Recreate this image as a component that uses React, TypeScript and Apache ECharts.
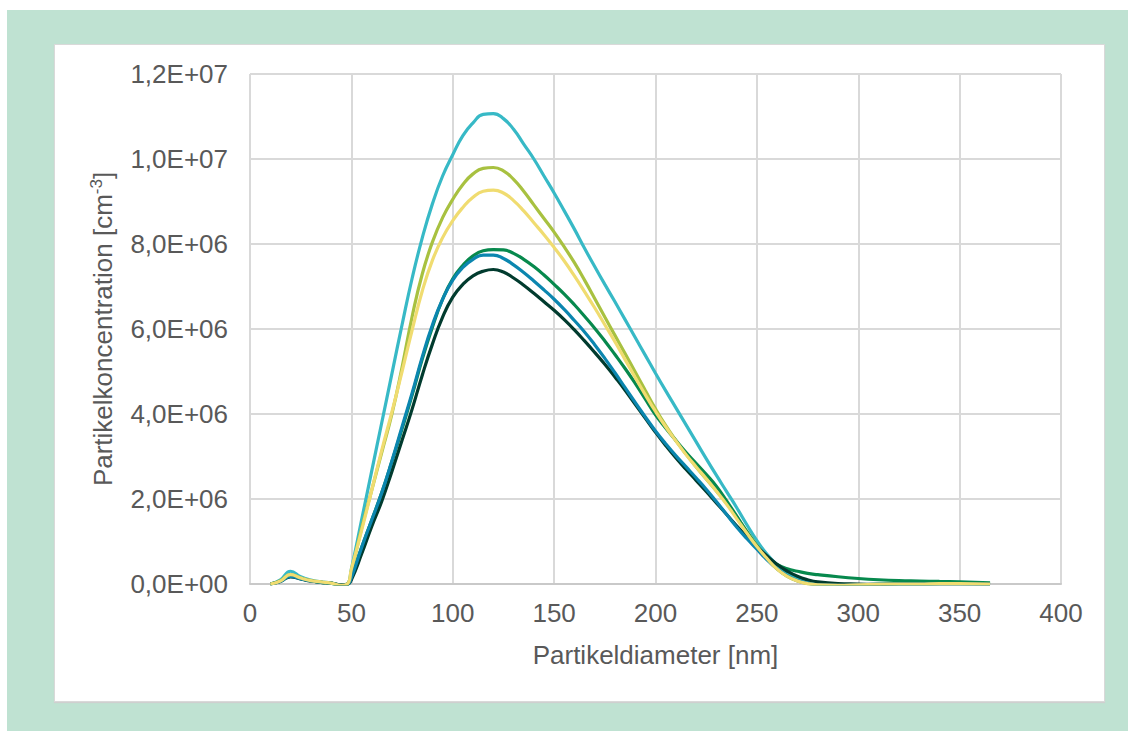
import React, { useEffect, useRef } from "react";
import * as echarts from "echarts";

// Particle diameter [nm]
const diameters = [
  10, 15, 20, 25, 30, 35, 40, 45, 48,
  50, 55, 60, 65, 70, 75, 80, 85, 90, 95,
  100, 105, 110, 115, 120, 125, 130, 135, 140, 145,
  150, 155, 160, 165, 170, 175, 180, 185, 190, 195,
  200, 205, 210, 215, 220, 225, 230, 235, 240, 245,
  250, 255, 260, 265, 270, 275, 280,
  290, 300, 310, 320, 330, 340, 350, 365,
];

// Concentrations in units of 1E6 cm^-3
const cyanValues = [
  0, 0.1, 0.3, 0.17, 0.09, 0.05, 0.02, -0.03, 0,
  0.35, 1.5, 2.65, 3.8, 4.95, 6.1, 7.2, 8.15, 8.95, 9.6,
  10.1, 10.55, 10.85, 11.05, 11.07, 10.95, 10.7, 10.35, 10.0, 9.6,
  9.2, 8.78, 8.35, 7.9, 7.47, 7.05, 6.64, 6.22, 5.8, 5.38,
  4.96, 4.55, 4.15, 3.75, 3.35, 2.95, 2.56, 2.18, 1.8, 1.4,
  1.02, 0.7, 0.45, 0.25, 0.12, 0.05, 0.01,
  -0.02, -0.02, -0.01, 0, 0, 0.01, 0.01, 0,
];

const oliveValues = [
  0, 0.08, 0.22, 0.14, 0.08, 0.04, 0.02, -0.03, 0,
  0.3, 1.3, 2.2, 3.1, 4.0, 5.1, 6.3, 7.3, 8.05, 8.62,
  9.05, 9.4, 9.65, 9.78, 9.8, 9.72, 9.52, 9.24, 8.92, 8.6,
  8.28, 7.93, 7.56, 7.15, 6.72, 6.28, 5.85, 5.42, 4.99, 4.55,
  4.12, 3.73, 3.38, 3.06, 2.76, 2.47, 2.19, 1.9, 1.58, 1.24,
  0.9, 0.6, 0.35, 0.18, 0.07, 0.01, -0.02,
  -0.03, -0.02, -0.01, 0, 0, 0.01, 0.01, 0,
];

const yellowValues = [
  0, 0.07, 0.22, 0.14, 0.08, 0.05, 0.02, -0.03, 0,
  0.35, 1.25, 2.2, 3.15, 4.05, 5.0, 5.98, 6.9, 7.62, 8.15,
  8.55, 8.86, 9.1, 9.24, 9.27, 9.2, 9.02, 8.78, 8.5, 8.22,
  7.92, 7.6, 7.25, 6.88, 6.5, 6.1, 5.7, 5.28, 4.86, 4.45,
  4.06, 3.7, 3.37, 3.05, 2.76, 2.48, 2.19, 1.88, 1.54, 1.2,
  0.88, 0.6, 0.35, 0.18, 0.07, 0.01, -0.02,
  -0.03, -0.02, -0.01, 0, 0, 0.01, 0.01, 0,
];

const greenValues = [
  0, 0.07, 0.2, 0.13, 0.07, 0.04, 0.02, -0.03, -0.01,
  0.15, 0.85, 1.5, 2.15, 2.88, 3.65, 4.45, 5.3, 6.05, 6.7,
  7.18, 7.5, 7.72, 7.84, 7.87, 7.86, 7.78, 7.64, 7.47, 7.27,
  7.05, 6.82, 6.57, 6.3, 6.02, 5.72, 5.4, 5.07, 4.72, 4.35,
  3.98, 3.67, 3.38, 3.1, 2.84, 2.58, 2.3, 1.96, 1.6, 1.24,
  0.9, 0.63, 0.46, 0.36, 0.3, 0.25, 0.22,
  0.17, 0.13, 0.1, 0.08, 0.07, 0.06, 0.05, 0.03,
];

const blueValues = [
  0, 0.06, 0.18, 0.12, 0.07, 0.04, 0.02, -0.03, -0.01,
  0.15, 0.85, 1.5, 2.15, 2.9, 3.7, 4.5, 5.35, 6.1, 6.7,
  7.15, 7.45, 7.64, 7.74, 7.74, 7.66, 7.51, 7.33, 7.13, 6.92,
  6.7, 6.46, 6.2, 5.93, 5.63, 5.31, 4.97, 4.62, 4.27, 3.93,
  3.6, 3.3, 3.02, 2.76, 2.5, 2.23, 1.94, 1.64, 1.34, 1.07,
  0.82, 0.57, 0.36, 0.19, 0.08, 0.02, -0.02,
  -0.03, -0.02, -0.01, 0, 0, 0.01, 0.01, 0,
];

const darkValues = [
  0, 0.06, 0.17, 0.12, 0.07, 0.04, 0.02, -0.02, -0.01,
  0.1, 0.7, 1.35, 1.95, 2.65, 3.38, 4.12, 4.92, 5.65, 6.28,
  6.75, 7.05, 7.25, 7.36, 7.4, 7.34, 7.2, 7.03, 6.84, 6.64,
  6.44, 6.22, 5.98, 5.72, 5.45, 5.17, 4.87, 4.56, 4.23, 3.9,
  3.57, 3.26, 2.97, 2.7, 2.44, 2.18, 1.91, 1.64, 1.37, 1.12,
  0.88, 0.66, 0.46, 0.3, 0.18, 0.1, 0.05,
  0.01, 0, -0.01, 0, 0, 0, 0, 0,
];

const seriesList = [
  { name: "Messung 1", values: cyanValues, color: "#37b9c6" },
  { name: "Messung 2", values: oliveValues, color: "#a8c140" },
  { name: "Messung 3", values: greenValues, color: "#07894d" },
  { name: "Messung 4", values: darkValues, color: "#013b2e" },
  { name: "Messung 5", values: blueValues, color: "#0b86af" },
  { name: "Messung 6", values: yellowValues, color: "#f0dc70" },
];

const xTitle = "Partikeldiameter [nm]";
const yTitle = "Partikelkoncentration [cm{sup|-3}]";

const FONT = "'Liberation Sans', Arial, sans-serif";
const TEXT = "#595959";

function formatSci(v: number): string {
  if (v === 0) return "0,0E+00";
  const exp = Math.floor(Math.log10(Math.abs(v)) + 1e-9);
  const mant = v / Math.pow(10, exp);
  const e = Math.abs(exp).toString().padStart(2, "0");
  return mant.toFixed(1).replace(".", ",") + "E" + (exp >= 0 ? "+" : "-") + e;
}

export default function App() {
  const ref = useRef<HTMLDivElement>(null);
  useEffect(() => {
    if (!ref.current) return;
    const chart = echarts.init(ref.current, undefined, { renderer: "svg" });
    chart.setOption({
      animation: false,
      backgroundColor: "transparent",
      grid: { left: 250, right: 67, top: 74, bottom: 147 },
      xAxis: {
        type: "value",
        min: 0,
        max: 400,
        interval: 50,
        name: xTitle,
        nameLocation: "middle",
        nameGap: 58,
        nameTextStyle: { color: TEXT, fontSize: 26, fontFamily: FONT },
        axisLine: { show: true, lineStyle: { color: "#c9c9c9", width: 2 } },
        axisTick: { show: false },
        axisLabel: { color: TEXT, fontSize: 26, fontFamily: FONT, margin: 16 },
        splitLine: { show: true, lineStyle: { color: "#d9d9d9", width: 2 } },
      },
      yAxis: {
        type: "value",
        min: 0,
        max: 12e6,
        interval: 2e6,
        name: yTitle,
        nameLocation: "middle",
        nameGap: 132,
        nameTextStyle: {
          color: TEXT,
          fontSize: 26,
          fontFamily: FONT,
          lineHeight: 30,
          rich: {
            sup: {
              color: TEXT,
              fontSize: 17,
              fontFamily: FONT,
              lineHeight: 18,
              verticalAlign: "top",
            },
          },
        },
        axisLine: { show: false },
        axisTick: { show: false },
        axisLabel: {
          color: TEXT,
          fontSize: 26,
          fontFamily: FONT,
          margin: 22,
          formatter: (v: number) => formatSci(v),
        },
        splitLine: { show: true, lineStyle: { color: "#d9d9d9", width: 2 } },
      },
      series: seriesList.map((s) => ({
        name: s.name,
        type: "line",
        smooth: 0.5,
        showSymbol: false,
        symbol: "none",
        lineStyle: { color: s.color, width: 3.2 },
        itemStyle: { color: s.color },
        data: diameters.map((d, i) => [d, s.values[i] * 1e6]),
      })),
    });
    return () => chart.dispose();
  }, []);

  return (
    <div
      style={{
        position: "absolute",
        left: 0,
        top: 0,
        width: 1128,
        height: 731,
        background: "#ffffff",
        overflow: "hidden",
      }}
    >
      <div
        style={{
          position: "absolute",
          left: 7,
          top: 10,
          width: 1121,
          height: 721,
          background: "#bfe2d2",
        }}
      />
      <div
        style={{
          position: "absolute",
          left: 54,
          top: 44,
          width: 1049,
          height: 656,
          background: "#ffffff",
          border: "1px solid #d9d9d9",
          boxShadow: "0 1px 1px #cfcfcf",
        }}
      />
      <div
        ref={ref}
        style={{ position: "absolute", left: 0, top: 0, width: 1128, height: 731 }}
      />
    </div>
  );
}
